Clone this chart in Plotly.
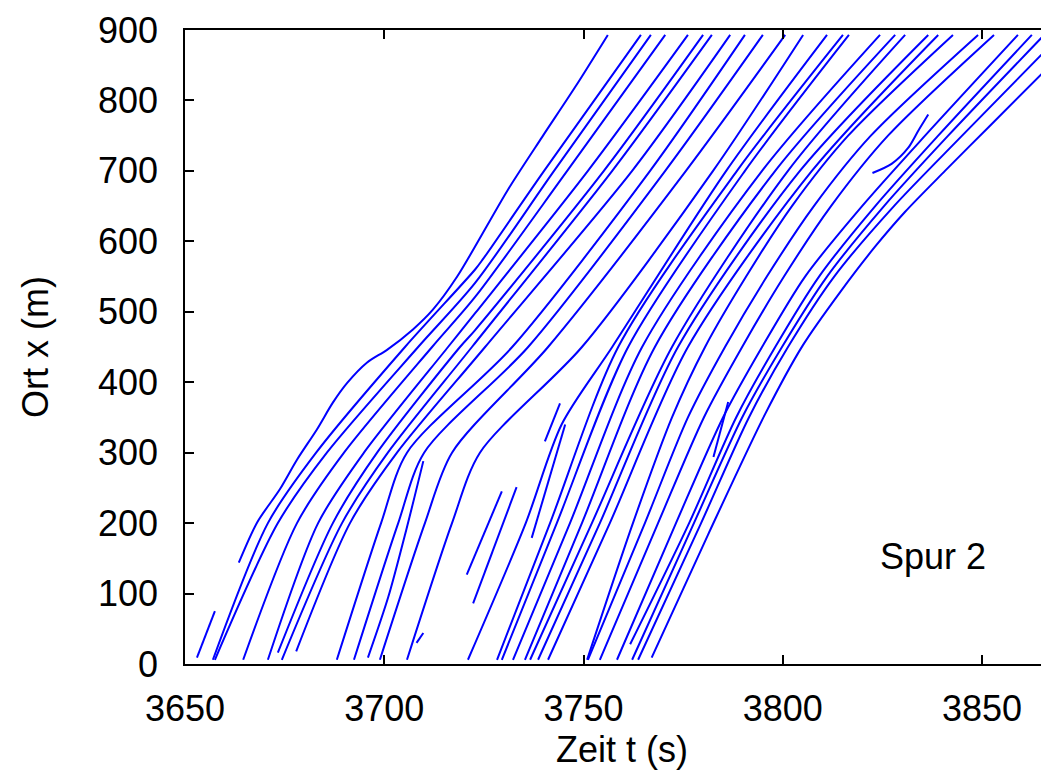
import plotly.graph_objects as go

# time t (s) / position x (m) knots of each trajectory
v01_t = [3663.5, 3668.1, 3673.8, 3678.1, 3683.1, 3687.1, 3690.7, 3695.7, 3700.7, 3707.2, 3712.2, 3718.3, 3731.0, 3739.6, 3747.9, 3756.1]
v01_x = [144, 201, 248, 290, 333, 371, 399, 428, 446, 475, 503, 550, 673, 748, 819, 893]
v02_t = [3657.0, 3670.8, 3682.9, 3705.2, 3722.8, 3724.8, 3740.1, 3764.4]
v02_x = [6, 200, 300, 450, 560, 575, 700, 893]
v03_t = [3657.5, 3673.3, 3685.6, 3708.5, 3722.8, 3742.6, 3766.9]
v03_x = [6, 200, 300, 450, 541, 700, 893]
v04_t = [3664.6, 3678.1, 3689.9, 3712.0, 3722.8, 3745.9, 3770.5]
v04_x = [6, 200, 300, 450, 521, 700, 893]
v05_t = [3670.8, 3683.4, 3694.9, 3716.0, 3722.8, 3751.1, 3776.2]
v05_x = [6, 200, 300, 450, 498, 700, 893]
v06_t = [3673.3, 3687.1, 3698.2, 3719.0, 3722.8, 3755.1, 3780.0]
v06_x = [16, 200, 300, 450, 474, 700, 893]
v07_t = [3674.3, 3689.4, 3700.9, 3722.0, 3757.2, 3782.2]
v07_x = [6, 200, 300, 450, 700, 893]
v08_t = [3677.9, 3691.4, 3703.2, 3725.3, 3762.2, 3786.8]
v08_x = [18, 200, 300, 450, 700, 893]
v09_t = [3688.1, 3699.2, 3705.7, 3732.1, 3766.7, 3790.5]
v09_x = [6, 200, 300, 450, 700, 893]
v10_t = [3692.4, 3703.5, 3710.0, 3736.1, 3770.5, 3795.0]
v10_x = [6, 200, 300, 450, 700, 893]
v11_t = [3698.9, 3710.2, 3717.0, 3741.1, 3775.7, 3800.6]
v11_x = [6, 200, 300, 450, 700, 893]
v12_t = [3705.7, 3717.0, 3724.0, 3749.6, 3782.5, 3805.1]
v12_x = [6, 200, 300, 450, 700, 893]
v13_t = [3721.0, 3735.5, 3744.5, 3757.2, 3785.8, 3811.1]
v13_x = [6, 200, 340, 450, 700, 893]
v14_t = [3728.3, 3741.6, 3758.7, 3788.5, 3815.1]
v14_x = [6, 200, 450, 700, 893]
v15_t = [3729.5, 3743.3, 3761.2, 3790.5, 3816.6]
v15_x = [6, 200, 450, 700, 893]
v16_t = [3732.3, 3746.6, 3764.7, 3794.8, 3824.4]
v16_x = [6, 200, 450, 700, 893]
v17_t = [3735.3, 3749.6, 3767.9, 3798.1, 3828.2]
v17_x = [6, 200, 450, 700, 893]
v18_t = [3736.6, 3752.1, 3772.2, 3801.3, 3830.7]
v18_x = [6, 200, 450, 700, 893]
v19_t = [3738.6, 3754.1, 3773.7, 3804.3, 3836.5]
v19_x = [6, 200, 450, 700, 893]
v20_t = [3741.1, 3756.6, 3776.2, 3807.3, 3839.0]
v20_x = [6, 200, 450, 700, 893]
v21_t = [3750.9, 3762.4, 3772.2, 3780.5, 3790.8, 3802.3, 3816.4, 3842.7]
v21_x = [6, 200, 350, 450, 550, 650, 750, 893]
v22_t = [3751.1, 3765.4, 3776.2, 3785.5, 3796.0, 3807.8, 3822.1, 3849.0]
v22_x = [6, 200, 350, 450, 550, 650, 750, 893]
v23_t = [3754.1, 3768.7, 3780.2, 3789.8, 3800.3, 3812.1, 3826.4, 3853.0]
v23_x = [6, 200, 350, 450, 550, 650, 750, 893]
v24_t = [3758.4, 3773.2, 3785.0, 3794.8, 3805.6, 3819.9, 3835.7, 3859.0]
v24_x = [6, 200, 350, 450, 550, 650, 750, 893]
v25_t = [3761.7, 3776.5, 3788.3, 3798.1, 3809.1, 3823.2, 3839.0, 3862.5]
v25_x = [28, 200, 350, 450, 550, 650, 750, 893]
v26_t = [3762.2, 3777.7, 3789.8, 3799.8, 3811.1, 3825.4, 3841.5, 3865.6]
v26_x = [6, 200, 350, 450, 550, 650, 750, 893]
v27_t = [3763.7, 3779.5, 3791.5, 3801.3, 3812.9, 3827.9, 3845.0, 3866.8]
v27_x = [6, 200, 350, 450, 550, 650, 750, 876]
v28_t = [3767.1, 3781.2, 3795.5, 3805.1, 3814.4, 3823.1, 3830.7, 3840.7, 3852.5, 3866.8]
v28_x = [9, 183, 354, 453, 528, 592, 642, 700, 767, 848]
# short pieces (lane changes)
s01_t = [3653.0, 3657.5]
s01_x = [9, 75]
s02_t = [3695.9, 3701.0, 3705.5, 3709.8]
s02_x = [9, 95, 190, 288]
s03_t = [3708.1, 3709.8]
s03_x = [30, 44]
s04_t = [3822.5, 3827.3, 3831.5, 3834.0, 3836.5]
s04_x = [697, 710, 733, 757, 780]
s05_t = [3720.7, 3729.5]
s05_x = [127, 245]
s06_t = [3722.3, 3733.2]
s06_x = [86, 251]
s07_t = [3740.3, 3744.1]
s07_x = [316, 370]
s08_t = [3737.0, 3745.4]
s08_x = [179, 340]
s09_t = [3782.6, 3786.3]
s09_x = [294, 372]

tracks = [
    (v01_t, v01_x), (v02_t, v02_x), (v03_t, v03_x), (v04_t, v04_x), (v05_t, v05_x),
    (v06_t, v06_x), (v07_t, v07_x), (v08_t, v08_x), (v09_t, v09_x), (v10_t, v10_x),
    (v11_t, v11_x), (v12_t, v12_x), (v13_t, v13_x), (v14_t, v14_x), (v15_t, v15_x),
    (v16_t, v16_x), (v17_t, v17_x), (v18_t, v18_x), (v19_t, v19_x), (v20_t, v20_x),
    (v21_t, v21_x), (v22_t, v22_x), (v23_t, v23_x), (v24_t, v24_x), (v25_t, v25_x),
    (v26_t, v26_x), (v27_t, v27_x), (v28_t, v28_x),
    (s01_t, s01_x), (s02_t, s02_x), (s03_t, s03_x), (s04_t, s04_x), (s05_t, s05_x),
    (s06_t, s06_x), (s07_t, s07_x), (s08_t, s08_x), (s09_t, s09_x),
]

x_ticks = [3650, 3700, 3750, 3800, 3850]
y_ticks = [0, 100, 200, 300, 400, 500, 600, 700, 800, 900]

FONT = "Liberation Sans, Arial, sans-serif"

fig = go.Figure()
for tt, xx in tracks:
    fig.add_trace(go.Scatter(x=tt, y=xx, mode="lines",
                             line=dict(color="#0000ff", width=2, shape="spline", smoothing=0.8),
                             hoverinfo="skip", showlegend=False))

fig.update_layout(
    width=1041, height=770,
    margin=dict(l=177, r=0, t=22, b=114, pad=0),
    paper_bgcolor="white", plot_bgcolor="white",
    font=dict(family=FONT, size=36, color="black"),
    showlegend=False,
)
fig.update_xaxes(range=[3650, 3866.8], tickvals=x_ticks, ticktext=[str(v) for v in x_ticks],
                 ticks="inside", ticklen=9, tickwidth=1.5, tickcolor="black",
                 showline=True, linecolor="black", linewidth=1.5, mirror="ticks",
                 showgrid=False, zeroline=False, ticklabelstandoff=12,
                 tickfont=dict(family=FONT, size=36, color="black"))
fig.update_yaxes(range=[0, 900], tickvals=y_ticks, ticktext=[str(v) for v in y_ticks],
                 ticks="inside", ticklen=9, tickwidth=1.5, tickcolor="black",
                 showline=True, linecolor="black", linewidth=1.5,
                 showgrid=False, zeroline=False, ticklabelstandoff=18,
                 tickfont=dict(family=FONT, size=36, color="black"))

fig.add_annotation(text="Ort x (m)", xref="paper", yref="paper", x=-0.1736, y=0.5,
                   textangle=-90, showarrow=False, xanchor="center", yanchor="middle",
                   font=dict(family=FONT, size=36, color="black"))
fig.add_annotation(text="Zeit t (s)", xref="paper", yref="paper", x=0.5058, y=-0.1356,
                   showarrow=False, xanchor="center", yanchor="middle",
                   font=dict(family=FONT, size=36, color="black"))
fig.add_annotation(text="Spur 2", x=3837.7, y=152, xref="x", yref="y",
                   showarrow=False, xanchor="center", yanchor="middle",
                   font=dict(family=FONT, size=36, color="black"))

fig.write_html("out.html")
